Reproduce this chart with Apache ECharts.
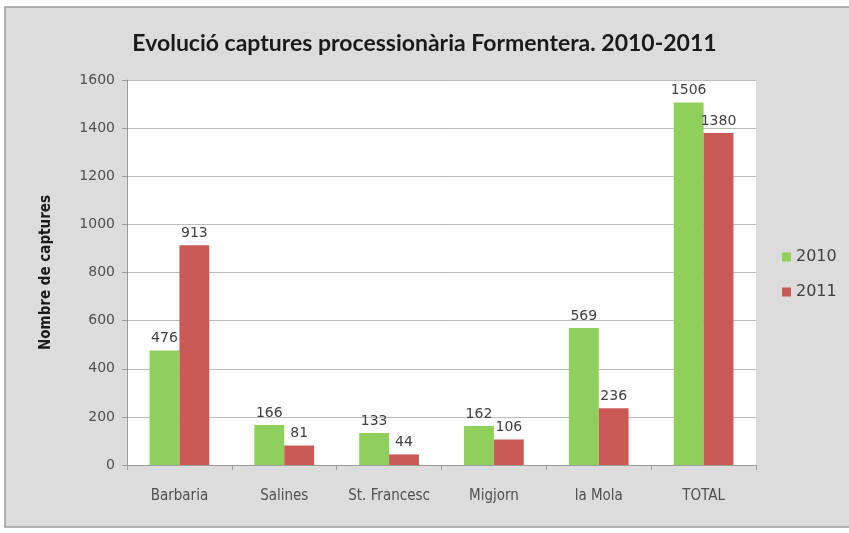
<!DOCTYPE html>
<html>
<head>
<meta charset="utf-8">
<script src="https://cdn.jsdelivr.net/npm/echarts@6/dist/echarts.min.js"></script>
<style>
  html, body { margin: 0; padding: 0; background: #fff; }
  #chart { width: 849px; height: 533px; }
</style>
</head>
<body>
<div id="chart"></div>
<script>
// Dades llegides del gràfic
const categories = ['Barbaria', 'Salines', 'St. Francesc', 'Migjorn', 'la Mola', 'TOTAL'];
const captures2010 = [476, 166, 133, 162, 569, 1506];
const captures2011 = [913, 81, 44, 106, 236, 1380];
const yTicks = { min: 0, max: 1600, interval: 200 };

const chart = echarts.init(document.getElementById('chart'), null, { renderer: 'canvas' });

const labelStyle = {
    show: true,
    position: 'top',
    distance: 5,
    color: '#404040',
    fontFamily: 'DejaVu Sans',
    fontSize: 14
};

chart.setOption({
    backgroundColor: '#fff',
    animation: false,
    graphic: [{
        type: 'rect',
        z: -10,
        shape: { x: 5, y: 7, width: 850, height: 520 },
        style: { fill: '#dcdcdc', stroke: '#9a9a9a', lineWidth: 1.5 }
    }, {
        type: 'rect',
        z: -5,
        shape: { x: 127, y: 80, width: 629, height: 385 },
        style: { fill: '#fff' }
    }],
    title: {
        text: 'Evolució captures processionària Formentera. 2010-2011',
        left: 'center',
        top: 27,
        textStyle: {
            fontFamily: 'Lato',
            fontWeight: 'bold',
            fontSize: 23,
            color: '#1a1a1a'
        }
    },
    legend: {
        orient: 'vertical',
        left: 777,
        top: 244,
        itemWidth: 9,
        itemHeight: 9,
        itemGap: 19,
        icon: 'rect',
        textStyle: { fontFamily: 'DejaVu Sans', fontSize: 16, color: '#404040' },
        data: ['2010', '2011']
    },
    grid: { left: 127, right: 93, top: 80, bottom: 68 },
    xAxis: {
        type: 'category',
        data: categories,
        axisLine: { lineStyle: { color: '#9c9c9c', width: 1 } },
        axisTick: { show: true, interval: 0, length: 5, lineStyle: { color: '#9c9c9c' } },
        axisLabel: { interval: 0, margin: 24, color: '#505050', fontFamily: 'DejaVu Sans Condensed', fontSize: 15 }
    },
    yAxis: {
        type: 'value',
        min: yTicks.min,
        max: yTicks.max,
        interval: yTicks.interval,
        name: 'Nombre de captures',
        nameLocation: 'middle',
        nameGap: 73,
        nameTextStyle: { fontFamily: 'DejaVu Sans Condensed', fontWeight: 'bold', fontSize: 15, color: '#1a1a1a' },
        axisLine: { show: true, lineStyle: { color: '#9c9c9c' } },
        axisTick: { show: true, length: 5, lineStyle: { color: '#9c9c9c' } },
        axisLabel: { margin: 12, color: '#505050', fontFamily: 'DejaVu Sans', fontSize: 14, formatter: v => String(v) },
        splitLine: { lineStyle: { color: '#bdbdbd', width: 1 } }
    },
    series: [{
        name: '2010',
        type: 'bar',
        data: captures2010,
        barGap: '0%',
        barCategoryGap: '43%',
        itemStyle: { color: '#8fcf5c' },
        label: labelStyle
    }, {
        name: '2011',
        type: 'bar',
        data: captures2011,
        itemStyle: { color: '#cb5a57' },
        label: labelStyle
    }]
});
</script>
</body>
</html>
